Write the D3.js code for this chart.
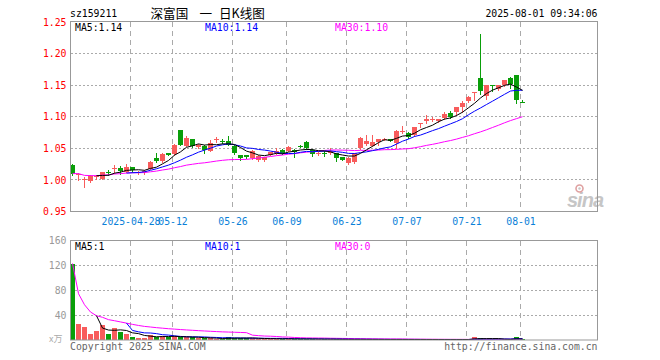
<!DOCTYPE html>
<html><head><meta charset="utf-8">
<script src="https://cdn.jsdelivr.net/npm/d3@7/dist/d3.min.js"></script>
<style>
body{margin:0;background:#fff;}
svg{display:block;}
text{font-family:"DejaVu Sans Mono",monospace;}
</style></head><body>
<svg id="c" width="660" height="360"></svg>
<script>
// ---------- data ----------
const dates = [
"2025-04-14","2025-04-15","2025-04-16","2025-04-17","2025-04-18","2025-04-21","2025-04-22","2025-04-23","2025-04-24","2025-04-25",
"2025-04-28","2025-04-29","2025-04-30","2025-05-06","2025-05-07","2025-05-08","2025-05-09","2025-05-12","2025-05-13","2025-05-14",
"2025-05-15","2025-05-16","2025-05-19","2025-05-20","2025-05-21","2025-05-22","2025-05-23","2025-05-26","2025-05-27","2025-05-28",
"2025-05-29","2025-05-30","2025-06-03","2025-06-04","2025-06-05","2025-06-06","2025-06-09","2025-06-10","2025-06-11","2025-06-12",
"2025-06-13","2025-06-16","2025-06-17","2025-06-18","2025-06-19","2025-06-20","2025-06-23","2025-06-24","2025-06-25","2025-06-26",
"2025-06-27","2025-06-30","2025-07-01","2025-07-02","2025-07-03","2025-07-04","2025-07-07","2025-07-08","2025-07-09","2025-07-10",
"2025-07-11","2025-07-14","2025-07-15","2025-07-16","2025-07-17","2025-07-18","2025-07-21","2025-07-22","2025-07-23","2025-07-24",
"2025-07-25","2025-07-28","2025-07-29","2025-07-30","2025-07-31","2025-08-01"];
const open  = [1.024,1.007,1.001,0.998,1.004,1.002,1.012,1.018,1.019,1.013,1.020,1.0105,1.012,1.018,1.035,1.030,1.042,1.041,1.079,1.054,
1.064,1.052,1.054,1.046,1.064,1.061,1.062,1.054,1.0395,1.0395,1.034,1.0315,1.0315,1.0395,1.042,1.048,1.046,1.048,1.054,1.060,
1.048,1.041,1.0425,1.042,1.042,1.036,1.027,1.028,1.050,1.057,1.054,1.0605,1.064,1.064,1.058,1.0775,1.075,1.071,1.089,1.0927,
1.0955,1.0932,1.0974,1.1054,1.107,1.115,1.1249,1.137,1.162,1.1328,1.1495,1.144,1.1502,1.162,1.166,1.124];
const high  = [1.025,1.011,1.005,1.007,1.007,1.013,1.015,1.024,1.022,1.025,1.021,1.014,1.015,1.030,1.042,1.042,1.043,1.057,1.079,1.070,
1.065,1.057,1.055,1.063,1.068,1.064,1.070,1.055,1.040,1.040,1.047,1.040,1.037,1.044,1.050,1.049,1.054,1.049,1.056,1.061,
1.049,1.044,1.045,1.050,1.043,1.037,1.036,1.043,1.068,1.071,1.071,1.065,1.066,1.065,1.079,1.085,1.076,1.084,1.0895,1.1027,
1.099,1.097,1.1075,1.1096,1.115,1.1254,1.133,1.1395,1.231,1.1505,1.1505,1.1505,1.158,1.163,1.166,1.126];
const low   = [1.008,1.000,0.988,0.997,1.002,1.001,1.008,1.011,1.010,1.012,1.013,1.009,1.010,1.017,1.028,1.029,1.039,1.040,1.055,1.053,
1.052,1.050,1.042,1.045,1.060,1.058,1.055,1.041,1.031,1.035,1.033,1.030,1.030,1.039,1.041,1.041,1.045,1.036,1.052,1.049,
1.038,1.040,1.038,1.041,1.030,1.031,1.025,1.027,1.049,1.055,1.053,1.056,1.063,1.061,1.051,1.075,1.067,1.070,1.083,1.0906,
1.093,1.092,1.096,1.098,1.103,1.1075,1.123,1.1265,1.136,1.1275,1.1413,1.143,1.149,1.145,1.1212,1.1233];
const close = [1.010,1.010,1.0015,1.006,1.006,1.012,1.011,1.0185,1.014,1.020,1.015,1.013,1.014,1.029,1.030,1.041,1.040,1.056,1.055,1.066,
1.053,1.055,1.047,1.059,1.0645,1.060,1.055,1.042,1.035,1.036,1.046,1.038,1.037,1.0435,1.046,1.042,1.052,1.044,1.053,1.050,
1.041,1.043,1.042,1.046,1.034,1.032,1.035,1.042,1.067,1.062,1.060,1.064,1.065,1.062,1.078,1.078,1.0685,1.083,1.0895,1.096,
1.096,1.096,1.1038,1.099,1.1149,1.1223,1.1312,1.1392,1.141,1.1502,1.149,1.150,1.158,1.1513,1.1265,1.1233];
const volume = [123,26,21,10,15,24,10,19,13.5,10,5,4,4,8,5,6.5,4.3,6.5,4.3,4.3,
4.3,3.2,2.7,2.7,2,1.6,4.8,3.8,3,2.5,2.6,2.2,2,1.8,1.8,1.6,2,1.5,1.4,1.6,
1.5,1.3,1.2,1.1,1.2,1.0,1.0,0.9,1.2,0.9,0.9,0.8,0.8,0.8,1.0,0.8,0.8,0.8,0.8,0.8,
0.7,0.7,0.7,0.7,0.8,0.8,0.9,5.4,2.5,1.5,1.0,1.0,0.9,0.9,5.4,0.3];
const tickDates  = ["2025-04-28","2025-05-12","2025-05-26","2025-06-09","2025-06-23","2025-07-07","2025-07-21","2025-08-01"];
const tickLabels = ["2025-04-28","05-12","05-26","06-09","06-23","07-07","07-21","08-01"];
const priceTicks = [0.95,1.00,1.05,1.10,1.15,1.20,1.25];
const volTicks = [40,80,120,160];
const priceLegend = ["MA5:1.14","MA10:1.14","MA30:1.10"];
const volLegend = ["MA5:1","MA10:1","MA30:0"];
const titleCode = "sz159211";
const titleName = ["深富国","一","日K线图"];
const timeStamp = "2025-08-01 09:34:06";

// ---------- helpers ----------
const RED="#f85c5c", GREEN="#0a9e0a", GRID="#aaaaaa", FRAME="#999999";
const svg = d3.select("#c");
const x = d3.scaleLinear().domain([0, 88]).range([70, 598]);
const yP = d3.scaleLinear().domain([0.95, 1.25]).range([211.5, 22]);
const yV = d3.scaleLinear().domain([0, 160]).range([340, 240.5]);
const crisp = v => Math.floor(v) + 0.5;
const tickIdx = tickDates.map(d => dates.indexOf(d));

function ma(arr, n, partial){
  return arr.map((_, i) => {
    if (i < n - 1 && !partial) return null;
    const s = arr.slice(Math.max(0, i - n + 1), i + 1);
    return d3.mean(s);
  });
}

// ---------- text header ----------
svg.append("text").attr("x", 70).attr("y", 17).attr("font-size", 9.8).attr("fill", "#000").text(titleCode);
const tt = svg.append("text").attr("y", 17.5).attr("font-size", 12.6)
  .style("font-family", '"Noto Sans CJK SC",sans-serif').attr("fill", "#000");
[[150.5, titleName[0]], [199.5, titleName[1]], [219, titleName[2]]].forEach(([px, s]) =>
  tt.append("tspan").attr("x", px).text(s));
svg.append("text").attr("x", 597.5).attr("y", 17).attr("text-anchor", "end").attr("font-size", 9.8).text(timeStamp);

// ---------- watermark ----------
const wm = svg.append("g").attr("opacity", 0.8);
wm.append("text").attr("x", 567).attr("y", 207).attr("font-size", 20).attr("font-weight", "bold")
  .attr("font-style", "italic").style("font-family", "Arial, Liberation Sans, sans-serif")
  .attr("fill", "#b8b8b8").attr("letter-spacing", -1).text("sina");
wm.append("circle").attr("cx", 579.5).attr("cy", 188.5).attr("r", 3.5).attr("fill", "none").attr("stroke", "#d88a8a").attr("stroke-width", 1.6);
wm.append("circle").attr("cx", 579.5).attr("cy", 188.5).attr("r", 1.2).attr("fill", "#b8b8b8");

// ---------- price panel ----------
const gP = svg.append("g");
priceTicks.filter(v => v > 0.95 && v < 1.25).forEach(v => {
  gP.append("line").attr("x1", 71).attr("x2", 597).attr("y1", crisp(yP(v))).attr("y2", crisp(yP(v)))
    .attr("stroke", GRID).attr("stroke-dasharray", "2,2");
});
tickIdx.forEach(i => {
  gP.append("line").attr("x1", x(i) + 0.5).attr("x2", x(i) + 0.5).attr("y1", 22).attr("y2", 211)
    .attr("stroke", GRID).attr("stroke-dasharray", "5,4");
});

const axP = d3.axisLeft(yP).tickValues(priceTicks).tickFormat(d3.format(".2f")).tickSize(0).tickPadding(4);
const gax = svg.append("g").attr("transform", "translate(70.5,0)").call(axP);
gax.select(".domain").remove();
gax.selectAll("text").attr("fill", "#ff0000").attr("font-size", 9.8).style("font-family", '"DejaVu Sans Mono",monospace');

const axX = d3.axisBottom(x).tickValues(tickIdx).tickFormat((d, k) => tickLabels[k]).tickSize(0).tickPadding(6.5);
const gx = svg.append("g").attr("transform", "translate(0.5,211.5)").call(axX);
gx.select(".domain").remove();
gx.selectAll("text").attr("fill", "#0a7fd8").attr("font-size", 9.8).style("font-family", '"DejaVu Sans Mono",monospace');

// candles
const candles = gP.append("g");
dates.forEach((d, i) => {
  const up = close[i] >= open[i];
  const col = up ? RED : GREEN;
  const cx = x(i) + 2.5;
  candles.append("line").attr("x1", cx).attr("x2", cx)
    .attr("y1", Math.round(yP(high[i]))).attr("y2", Math.round(yP(low[i])) + 1)
    .attr("stroke", col).attr("stroke-width", 1);
  const yt = Math.round(yP(Math.max(open[i], close[i])));
  const yb = Math.round(yP(Math.min(open[i], close[i])));
  candles.append("rect").attr("x", x(i)).attr("width", 5).attr("y", yt)
    .attr("height", Math.max(1, yb - yt)).attr("fill", col);
});

// moving averages
const lineP = d3.line().defined(v => v != null).x((v, i) => x(i) + 2.5).y(v => yP(v));
[[ma(close, 30, true), "#ff00ff"], [ma(close, 10, false), "#0000ff"], [ma(close, 5, false), "#000000"]].forEach(([arr, c]) => {
  gP.append("path").attr("d", lineP(arr)).attr("fill", "none").attr("stroke", c).attr("stroke-width", 1);
});

svg.append("rect").attr("x", 70.5).attr("y", 21.5).attr("width", 527).attr("height", 190)
  .attr("fill", "none").attr("stroke", FRAME);

const legX = [75, 205, 335], legC = ["#000000", "#0000ff", "#ff00ff"];
priceLegend.forEach((s, k) => svg.append("text").attr("x", legX[k]).attr("y", 30.5).attr("font-size", 9.8).attr("fill", legC[k]).text(s));

// ---------- volume panel ----------
const gV = svg.append("g");
volTicks.filter(v => v < 160).forEach(v => {
  gV.append("line").attr("x1", 71).attr("x2", 597).attr("y1", crisp(yV(v))).attr("y2", crisp(yV(v)))
    .attr("stroke", GRID).attr("stroke-dasharray", "2,2");
});
tickIdx.forEach(i => {
  gV.append("line").attr("x1", x(i) + 0.5).attr("x2", x(i) + 0.5).attr("y1", 241).attr("y2", 340)
    .attr("stroke", GRID).attr("stroke-dasharray", "5,4");
});
const axV = d3.axisLeft(yV).tickValues(volTicks).tickFormat(d3.format("d")).tickSize(0).tickPadding(4);
const gav = svg.append("g").attr("transform", "translate(70.5,0)").call(axV);
gav.select(".domain").remove();
gav.selectAll("text").attr("fill", "#999999").attr("font-size", 9.8).style("font-family", '"DejaVu Sans Mono",monospace');
svg.append("text").attr("x", 49).attr("y", 342).attr("font-size", 9).attr("fill", "#aaaaaa")
  .style("font-family", '"Noto Sans CJK SC",sans-serif').text("x万");

dates.forEach((d, i) => {
  const up = close[i] >= open[i];
  const yt = Math.min(339, Math.round(yV(volume[i])));
  gV.append("rect").attr("x", x(i)).attr("width", 5).attr("y", yt).attr("height", 340 - yt)
    .attr("fill", up ? RED : GREEN);
});
const lineV = d3.line().defined(v => v != null).x((v, i) => x(i) + 2.5).y(v => yV(v));
[[ma(volume, 30, true), "#ff00ff"], [ma(volume, 10, false), "#0000ff"], [ma(volume, 5, false), "#000000"]].forEach(([arr, c]) => {
  gV.append("path").attr("d", lineV(arr)).attr("fill", "none").attr("stroke", c).attr("stroke-width", 1);
});
svg.append("rect").attr("x", 70.5).attr("y", 240.5).attr("width", 527).attr("height", 99.5)
  .attr("fill", "none").attr("stroke", FRAME);
volLegend.forEach((s, k) => svg.append("text").attr("x", legX[k]).attr("y", 249.5).attr("font-size", 9.8).attr("fill", legC[k]).text(s));

svg.append("text").attr("x", 70).attr("y", 350).attr("font-size", 9.8).attr("fill", "#666666").text("Copyright 2025 SINA.COM");
svg.append("text").attr("x", 597.5).attr("y", 350).attr("text-anchor", "end").attr("font-size", 9.8).attr("fill", "#666666").text("http://finance.sina.com.cn");
</script>
</body></html>
